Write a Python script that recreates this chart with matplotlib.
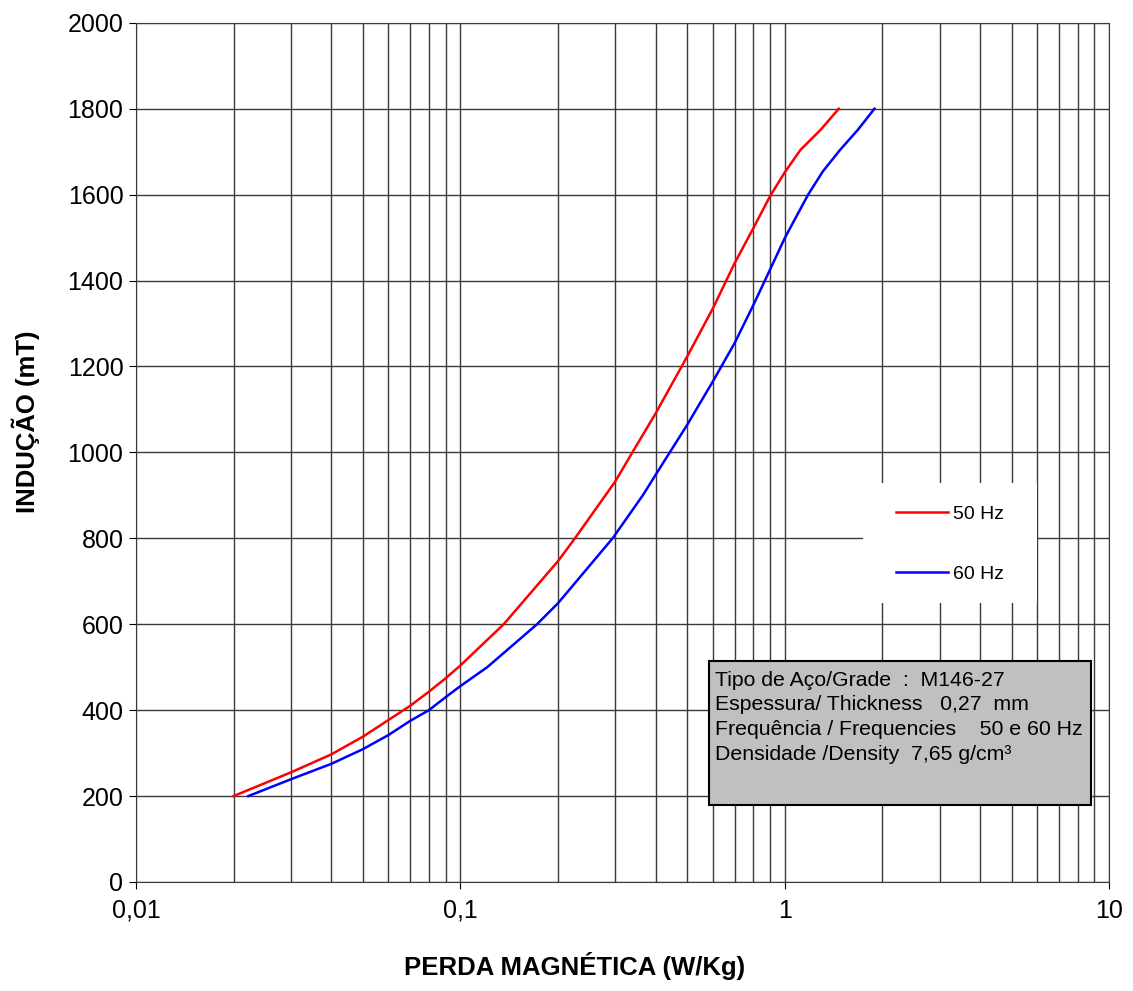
import matplotlib
matplotlib.use("Agg")
import matplotlib.pyplot as plt
from matplotlib.patches import Rectangle
from matplotlib.ticker import FixedLocator, FixedFormatter, LogLocator, NullFormatter

plt.rcParams["font.family"] = ["Liberation Sans", "DejaVu Sans"]

# 50 Hz curve: loss (W/Kg) and induction (mT)
loss_50hz = [0.020, 0.030, 0.040, 0.050, 0.060, 0.070, 0.080, 0.090,
             0.100, 0.136, 0.200, 0.2255, 0.300, 0.339, 0.400, 0.500,
             0.600, 0.700, 0.800, 0.900, 1.000, 1.117, 1.29, 1.467]
induction_50hz = [200, 255, 297, 338, 377, 410, 443, 474,
                  504, 600, 747, 800, 932, 1000, 1091, 1223,
                  1335, 1440, 1522, 1596, 1652, 1704, 1751, 1800]

# 60 Hz curve
loss_60hz = [0.0222, 0.030, 0.040, 0.050, 0.060, 0.070, 0.080, 0.090,
             0.100, 0.121, 0.1723, 0.200, 0.2946, 0.365, 0.400,
             0.442, 0.500, 0.600, 0.700, 0.800, 0.900, 1.000, 1.18, 1.31,
             1.48, 1.68, 1.89]
induction_60hz = [200, 239, 275, 309, 342, 375, 400, 430,
                  456, 500, 600, 649, 800, 900, 948,
                  1000, 1064, 1165, 1254, 1343, 1425, 1499, 1600, 1654,
                  1704, 1751, 1800]

x_ticks = [0.01, 0.1, 1, 10]
x_tick_labels = ["0,01", "0,1", "1", "10"]
y_ticks = list(range(0, 2001, 200))

info_lines = [
    "Tipo de Aço/Grade  :  M146-27",
    "Espessura/ Thickness   0,27  mm",
    "Frequência / Frequencies    50 e 60 Hz",
    "Densidade /Density  7,65 g/cm³",
]


def main():
    fig = plt.figure(figsize=(11.33, 9.91), dpi=100)
    ax = fig.add_axes([0.120, 0.110, 0.859, 0.867])

    ax.set_xscale("log")
    ax.set_xlim(0.01, 10)
    ax.set_ylim(0, 2000)

    ax.xaxis.set_major_locator(FixedLocator(x_ticks))
    ax.xaxis.set_major_formatter(FixedFormatter(x_tick_labels))
    ax.xaxis.set_minor_locator(LogLocator(base=10, subs=range(2, 10)))
    ax.xaxis.set_minor_formatter(NullFormatter())
    ax.set_yticks(y_ticks)

    ax.grid(True, which="major", color="#3a3a3a", linewidth=1.0)
    ax.grid(True, which="minor", axis="x", color="#3a3a3a", linewidth=1.0)
    ax.set_axisbelow(True)

    ax.tick_params(axis="both", which="major", labelsize=18, length=5,
                   direction="out", color="black")
    ax.tick_params(axis="x", which="minor", length=0)
    ax.tick_params(axis="x", pad=7)
    ax.tick_params(axis="y", pad=4)
    for s in ax.spines.values():
        s.set_color("#3a3a3a")

    ax.plot(loss_50hz, induction_50hz, color="#ff0000", linewidth=1.8,
            label="50 Hz")
    ax.plot(loss_60hz, induction_60hz, color="#0000ff", linewidth=1.8,
            label="60 Hz")

    # white legend area that hides the grid
    ax.add_patch(Rectangle((0.747, 0.3248), 0.1788, 0.1397,
                           transform=ax.transAxes, facecolor="white",
                           edgecolor="none", zorder=1.5))
    ax.legend(loc="upper left", bbox_to_anchor=(0.781, 0.4388),
              fontsize=14, frameon=False, handlelength=2.68,
              handletextpad=0.26, labelspacing=2.2, borderpad=0,
              borderaxespad=0)

    # info box
    ax.add_patch(Rectangle((0.589, 0.0896), 0.3925, 0.1677,
                           transform=ax.transAxes, facecolor="#c0c0c0",
                           edgecolor="black", linewidth=1.5, zorder=5))
    for i, line in enumerate(info_lines):
        ax.text(0.595, 0.235 - i * 0.0288, line, transform=ax.transAxes,
                fontsize=15.3, va="center", ha="left", zorder=6)

    fig.text(0.507, 0.011, "PERDA MAGNÉTICA (W/Kg)", fontsize=18.5,
             fontweight="bold", ha="center", va="bottom")
    fig.text(0.023, 0.574, "INDUÇÃO (mT)", fontsize=18.5, fontweight="bold",
             rotation=90, ha="center", va="center")

    fig.savefig("out.png", dpi=100)


if __name__ == "__main__":
    main()
